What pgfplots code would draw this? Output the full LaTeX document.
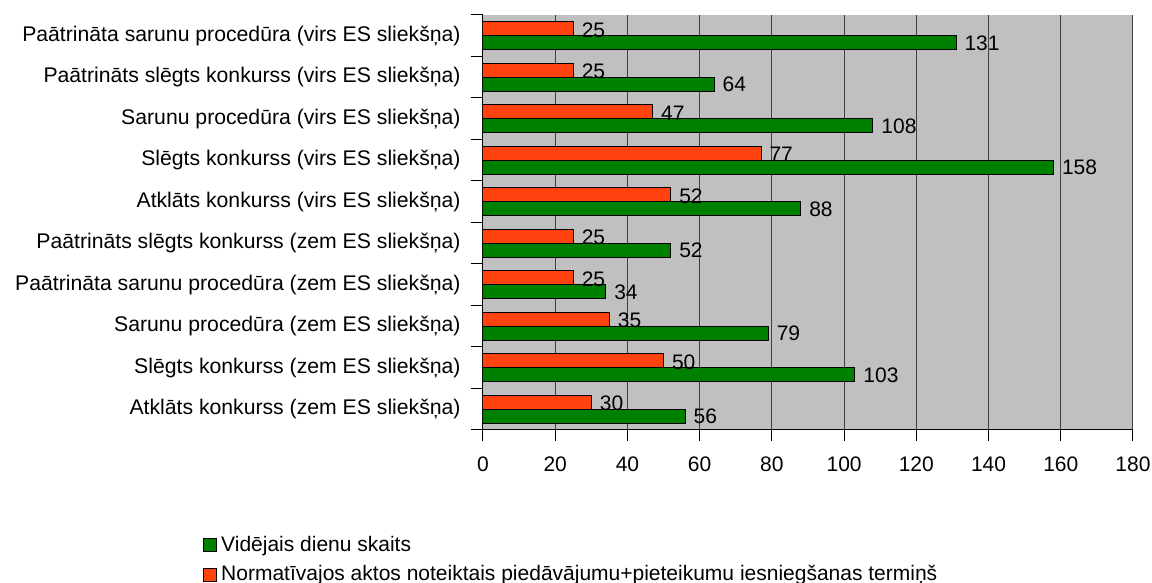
\documentclass[border=0pt]{standalone}
\usepackage{fontspec}
\setmainfont{Liberation Sans}
\usepackage{pgfplots}
\pgfplotsset{compat=1.18}
\definecolor{barGreen}{RGB}{0,128,0}
\definecolor{barRed}{RGB}{255,66,14}
\definecolor{plotBg}{RGB}{192,192,192}

\begin{document}
\fontsize{10.5}{12.6}\selectfont
\begin{tikzpicture}
\useasboundingbox (-241.5pt,-76.5pt) rectangle (334.5pt,215pt);
\begin{axis}[
  xbar, scale only axis,
  width=325pt, height=207.5pt,
  xmin=0, xmax=180, ymin=-0.5, ymax=9.5,
  xtick={0,20,...,180},
  ytick={0,...,9},
  yticklabels={
    Atklāts konkurss (zem ES sliekšņa),
    Slēgts konkurss (zem ES sliekšņa),
    Sarunu procedūra (zem ES sliekšņa),
    Paātrināta sarunu procedūra (zem ES sliekšņa),
    Paātrināts slēgts konkurss (zem ES sliekšņa),
    Atklāts konkurss (virs ES sliekšņa),
    Slēgts konkurss (virs ES sliekšņa),
    Sarunu procedūra (virs ES sliekšņa),
    Paātrināts slēgts konkurss (virs ES sliekšņa),
    Paātrināta sarunu procedūra (virs ES sliekšņa)},
  minor ytick={-0.5,0.5,...,9.5},
  tick align=outside, major tick length=5.5pt, minor tick length=6pt,
  major y tick style={draw=none},
  tick style={black, line width=0.5pt},
  axis x line*=bottom, axis y line*=left,
  axis line style={-, black, line width=0.5pt},
  xmajorgrids, grid style={black!75, line width=0.5pt},
  axis background/.style={fill=plotBg},
  /pgf/number format/assume math mode=true,
  yticklabel style={xshift=-2pt, font=\fontsize{10.6}{13}\selectfont},
  xticklabel style={yshift=-4pt},
  bar width=7pt,
  nodes near coords,
  every node near coord/.style={anchor=west, xshift=0.5pt, black},
  legend style={at={(axis description cs:-0.431,-0.245)}, anchor=north west,
    draw=none, fill=none, row sep=1.5pt, inner sep=0pt,
    /tikz/every even column/.append style={column sep=3.5pt}},
  legend cell align=left,
  legend image code/.code={\draw[#1, line width=0.5pt] (0pt,-3.25pt) rectangle (6.5pt,3.25pt);},
]
\addplot[fill=barGreen, draw=black, line width=0.5pt, bar shift=-3.5pt,
  every node near coord/.append style={yshift=-3.75pt}] coordinates {
  (56,0) (103,1) (79,2) (34,3) (52,4) (88,5) (158,6) (108,7) (64,8) (131,9)};
\addlegendentry{Vidējais dienu skaits}
\addplot[fill=barRed, draw=black, line width=0.5pt, bar shift=3.5pt,
  every node near coord/.append style={yshift=2.75pt}] coordinates {
  (30,0) (50,1) (35,2) (25,3) (25,4) (52,5) (77,6) (47,7) (25,8) (25,9)};
\addlegendentry{Normatīvajos aktos noteiktais piedāvājumu+pieteikumu iesniegšanas termiņš}
\end{axis}
\end{tikzpicture}
\end{document}
